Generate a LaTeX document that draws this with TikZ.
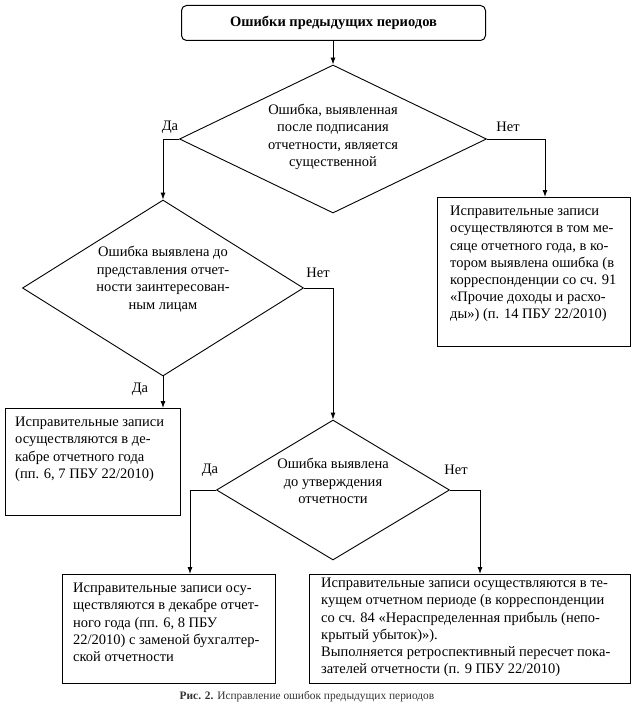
\documentclass[tikz,border=0pt]{standalone}
\usepackage{fontspec}
\setmainfont{Liberation Serif}
\usetikzlibrary{shapes.geometric,arrows.meta}
\begin{document}
\begin{tikzpicture}[x=1pt,y=-1pt,
  box/.style={draw, line width=1pt, inner sep=0pt, anchor=north west},
  dia/.style={draw, diamond, line width=0.9pt, inner sep=0pt},
  txt/.style={font=\fontsize{14.5}{17.2}\selectfont, align=left, anchor=north west, inner sep=0pt},
  dtxt/.style={font=\fontsize{14.5}{17.5}\selectfont, align=center, inner sep=0pt},
  lbl/.style={font=\fontsize{14.5}{16}\selectfont, inner sep=0pt},
  arr/.style={-{Latex[length=7pt,width=5pt]}, line width=0.9pt}]
\useasboundingbox (0,0) rectangle (635,706);
% title
\node[draw, line width=1pt, rounded corners=5pt, minimum width=304pt, minimum height=35pt,
  anchor=north west, font=\fontsize{14.5}{16}\selectfont\bfseries] (title) at (181,5) {Ошибки предыдущих периодов};
% diamonds
\node[dia, minimum width=307pt, minimum height=148pt] (d1) at (333,139) {};
\node[dia, minimum width=281pt, minimum height=176pt] (d2) at (163,288) {};
\node[dia, minimum width=233pt, minimum height=140pt] (d3) at (333,490) {};
\node[dtxt] (t1) at (333,137) {Ошибка, выявленная\\после подписания\\отчетности, является\\существенной};
\node[dtxt] (t2) at (163,279) {Ошибка выявлена до\\представления отчет-\\ности заинтересован-\\ным лицам};
\node[dtxt] (t3) at (333,481) {Ошибка выявлена\\до утверждения\\отчетности};
% boxes
\node[box, minimum width=193pt, minimum height=149pt] (rt) at (437,197) {};
\node[box, minimum width=175pt, minimum height=107pt] (lb) at (5,408) {};
\node[box, minimum width=213pt, minimum height=109pt] (bl) at (62,574) {};
\node[box, minimum width=321pt, minimum height=109pt] (br) at (309,574) {};
\node[txt] (rtt) at (450,206) {Исправительные записи\\осуществляются в том ме-\\сяце отчетного года, в ко-\\тором выявлена ошибка (в\\корреспонденции со сч. 91\\«Прочие доходы и расхо-\\ды») (п. 14 ПБУ 22/2010)};
\node[txt] (lbt) at (15,417) {Исправительные записи\\осуществляются в де-\\кабре отчетного года\\(пп. 6, 7 ПБУ 22/2010)};
\node[txt] (blt) at (73,583) {Исправительные записи осу-\\ществляются в декабре отчет-\\ного года (пп. 6, 8 ПБУ\\22/2010) с заменой бухгалтер-\\ской отчетности};
\node[txt] (brt) at (321,578) {Исправительные записи осуществляются в те-\\кущем отчетном периоде (в корреспонденции\\со сч. 84 «Нераспределенная прибыль (непо-\\крытый убыток)»).\\Выполняется ретроспективный пересчет пока-\\зателей отчетности (п. 9 ПБУ 22/2010)};
% entry coordinates
\coordinate (rtin) at (545,197);
\coordinate (lbin) at (163,408);
\coordinate (blin) at (190,574);
\coordinate (brin) at (480,574);
% connectors
\draw[arr] (title.south -| d1.north) -- (d1.north);
\draw[arr] (d1.west) -| (d2.north);
\draw[arr] (d1.east) -| (rtin);
\draw[arr] (d2.south) -- (lbin);
\draw[arr] (d2.east) -| (d3.north);
\draw[arr] (d3.west) -| (blin);
\draw[arr] (d3.east) -| (brin);
% labels
\node[lbl] (l1) at (170,127) {Да};
\node[lbl] (l2) at (508,127) {Нет};
\node[lbl] (l3) at (318,273) {Нет};
\node[lbl] (l4) at (140,389) {Да};
\node[lbl] (l5) at (210,470) {Да};
\node[lbl] (l6) at (456,470) {Нет};
% caption
\node[font=\fontsize{11.4}{13}\selectfont, text=black!80, inner sep=0pt] (cap) at (307,697) {\textbf{Рис. 2.} Исправление ошибок предыдущих периодов};
\end{tikzpicture}
\end{document}
